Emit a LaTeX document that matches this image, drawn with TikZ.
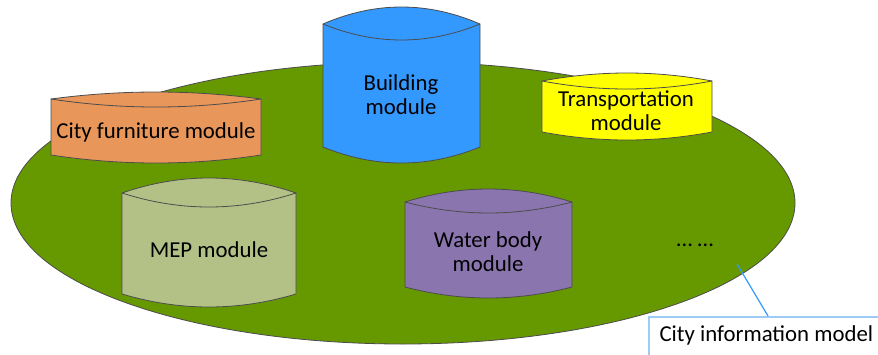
\documentclass[tikz,border=0pt]{standalone}
\usepackage{fontspec}
\setmainfont{Carlito}
\usetikzlibrary{positioning, calc, shapes.geometric}
\definecolor{cimgreen}{HTML}{669900}
\definecolor{furnorange}{HTML}{E9965A}
\definecolor{buildblue}{HTML}{3399FF}
\definecolor{transyellow}{HTML}{FFFF00}
\definecolor{mepolive}{HTML}{B3C187}
\definecolor{waterpurple}{HTML}{8B75AE}
\definecolor{calloutblue}{HTML}{3399FF}
\definecolor{boxblue}{HTML}{9CCBF5}
\tikzset{
modline/.style = {draw=black!70, line width=0.8pt},
modtext/.style = {align=center, font=\fontsize{22.8}{24}\selectfont},
cimbox/.style = {draw=boxblue, line width=1.5pt, fill=white, anchor=north west,
    minimum width=250pt, minimum height=60pt, inner sep=0pt}
}
% cylinder: x1, x2, top y, top arc up, top arc down, bottom y, bottom arc, fill
\newcommand{\modcyl}[8]{%
  \pgfmathsetmacro\cyXa{#1+(#2-#1)/3}
  \pgfmathsetmacro\cyXb{#2-(#2-#1)/3}
  \pgfmathsetmacro\cyYu{#3-4*#4/3}
  \pgfmathsetmacro\cyYd{#3+4*#5/3}
  \pgfmathsetmacro\cyYb{#6+4*#7/3}
  \filldraw[modline, fill=#8] (#1,#3) .. controls (\cyXa,\cyYu) and (\cyXb,\cyYu) .. (#2,#3)
    -- (#2,#6) .. controls (\cyXb,\cyYb) and (\cyXa,\cyYb) .. (#1,#6) -- cycle;
  \draw[modline] (#1,#3) .. controls (\cyXa,\cyYd) and (\cyXb,\cyYd) .. (#2,#3);
}

\begin{document}
\begin{tikzpicture}[x=1pt, y=-1pt]
    \useasboundingbox (0,0) rectangle (878,354);
    % city information model base
    \node (cim) [ellipse, draw=black!70, line width=0.8pt, fill=cimgreen,
        minimum width=784pt, minimum height=282pt, inner sep=0pt] at (403,203) {};
    % modules
    \modcyl{51}{261}{99}{7}{8}{155}{8}{furnorange}
    \modcyl{323}{480}{24}{17}{16}{147}{16}{buildblue}
    \modcyl{542}{712}{81}{8}{8}{132}{8}{transyellow}
    \modcyl{122}{296}{193}{15}{14}{294}{13}{mepolive}
    \modcyl{405}{572}{202}{13}{11}{287}{11}{waterpurple}
    \node (furniture) [modtext] at (156,132) {City furniture module};
    \node (building) [modtext] at (401,95) {Building\\module};
    \node (transport) [modtext] at (626,111) {Transportation\\module};
    \node (mep) [modtext] at (209,250) {MEP module};
    \node (water) [modtext] at (488,252) {Water body\\module};
    \node (more) [modtext] at (695,245) {\ldots\ \ldots};
    % callout
    \node (cimlabel) [cimbox] at (648,316) {};
    \node (cimtext) [modtext, anchor=west] at (656,335) {City information model};
    \coordinate (pin) at (737,264);
    \coordinate (pinend) at (768,316);
    \draw[calloutblue, line width=1.2pt] (pin) -- (pinend);
\end{tikzpicture}
\end{document}
